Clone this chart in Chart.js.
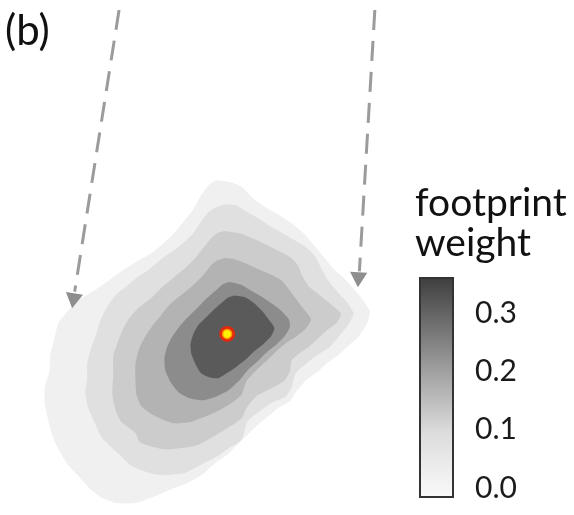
<!DOCTYPE html>
<html>
<head>
<meta charset="utf-8">
<script src="https://cdn.jsdelivr.net/npm/chart.js@4"></script>
<style>
  body { margin: 0; background: #fff; }
  #wrap { position: relative; width: 574px; height: 515px; overflow: hidden; }
  #main { position: absolute; left: 0; top: 0; }
  #bar { position: absolute; left: 415px; top: 180px; }
  #panel { position: absolute; left: 5px; top: 8px; font: 42px Lato, sans-serif; line-height: 42px; color: #111; }
</style>
</head>
<body>
<div id="wrap">
  <canvas id="main" width="574" height="515"></canvas>
  <canvas id="bar" width="159" height="353"></canvas>
  <div id="panel">(b)</div>
</div>
<script>
// footprint contours, outermost first (x, y in picture units)
const contourL1 = [[213,177],[228,179],[240,184],[252,196],[266,206],[280,214],[292,222],[304,232],[316,246],[326,258],[336,270],[347,280],[357,291],[366,302],[373,314],[370,326],[361,340],[350,350],[340,359],[328,368],[318,377],[306,386],[296,398],[290,407],[278,414],[266,424],[254,434],[240,448],[226,462],[212,472],[198,484],[184,492],[168,498],[150,506],[130,513],[110,513],[94,507],[84,499],[72,486],[60,473],[52,460],[45,446],[40,428],[36,410],[36,393],[41,375],[42,358],[46,342],[50,326],[60,313],[74,300],[90,290],[104,280],[118,270],[134,260],[148,252],[160,242],[170,232],[180,220],[190,207],[198,193],[206,182],[213,177]];
const contourL2 = [[222,202],[234,203],[245,210],[256,216],[268,224],[280,231],[292,238],[306,246],[316,256],[322,268],[330,282],[340,294],[350,305],[356,316],[350,328],[342,338],[332,350],[320,358],[308,367],[296,378],[292,392],[286,402],[272,408],[258,418],[246,428],[240,447],[228,455],[217,463],[200,472],[180,482],[160,484],[145,482],[125,474],[117,466],[105,455],[95,445],[88,430],[81,414],[78,398],[80,382],[80,368],[84,352],[89,338],[94,322],[100,310],[110,296],[120,288],[132,278],[144,270],[158,258],[170,250],[180,242],[190,232],[198,220],[206,210],[214,205],[222,202]];
const contourL3 = [[223,230],[240,233],[257,240],[277,250],[290,257],[298,265],[303,277],[310,288],[320,296],[330,304],[343,316],[338,326],[330,332],[320,341],[310,350],[300,357],[292,364],[290,376],[284,386],[270,394],[255,402],[245,414],[240,425],[217,440],[193,453],[160,457],[135,450],[130,440],[115,428],[110,418],[106,400],[107,380],[107,360],[112,345],[117,332],[124,320],[133,310],[146,300],[158,288],[170,278],[182,268],[192,258],[200,248],[208,238],[215,232],[223,230]];
const contourL4 = [[222,258],[232,259],[245,264],[258,270],[272,276],[282,282],[290,292],[298,303],[305,312],[312,322],[305,333],[296,340],[284,348],[275,356],[266,365],[255,375],[245,386],[240,400],[228,410],[214,418],[200,424],[186,429],[170,430],[158,426],[146,420],[136,412],[131,400],[130,385],[130,368],[134,352],[140,340],[148,328],[156,318],[166,306],[178,296],[190,286],[200,276],[208,266],[214,261],[222,258]];
const contourL5 = [[228,283],[240,286],[250,292],[262,299],[272,306],[281,313],[289,322],[290,330],[284,340],[276,348],[266,356],[256,366],[246,375],[238,385],[226,396],[214,402],[200,406],[186,404],[175,398],[167,388],[161,375],[160,362],[163,350],[168,340],[175,330],[184,320],[194,310],[204,300],[214,291],[221,285],[228,283]];
const contourCore = [[232,297],[244,299],[253,305],[262,314],[268,322],[274,331],[270,340],[262,348],[252,356],[244,364],[236,370],[226,377],[216,383],[206,382],[198,378],[192,368],[188,358],[187,348],[190,337],[195,328],[203,320],[212,311],[220,304],[226,299],[232,297]];
const towerPoint = [[225,337]];
const arrowLeft = [[113,0],[67,293]];
const arrowRight = [[378,0],[362,272]];
const arrowHeads = [[66,300],[361,278]];

// colour bar
const weightRange = [-0.017, 0.362];
const weightTicks = [0.0, 0.1, 0.2, 0.3];
const legendTitle = ["footprint", "weight"];

const shades = ["#f0f0f0", "#e0e0e0", "#cccccc", "#b3b3b3", "#8c8c8c", "#5a5a5a"];
const contours = [contourL1, contourL2, contourL3, contourL4, contourL5, contourCore];

const toXY = (arr) => arr.map((p) => ({ x: p[0], y: p[1] }));

const datasets = contours.map((c, i) => ({
    type: "line",
    data: toXY(c),
    backgroundColor: shades[i],
    borderWidth: 0,
    pointRadius: 0,
    tension: 0.2,
    fill: "shape",
    order: 20 - i,
}));

[arrowLeft, arrowRight].forEach((a) => {
    datasets.push({
        type: "line",
        data: toXY(a),
        borderColor: "#9b9b9b",
        borderWidth: 3,
        borderDash: [20, 11],
        pointRadius: 0,
        fill: false,
        order: 2,
    });
});

datasets.push({
    type: "scatter",
    data: toXY(arrowHeads),
    pointStyle: "triangle",
    pointRadius: 10,
    rotation: [189, 183],
    backgroundColor: "#8e8e8e",
    borderWidth: 0,
    order: 1,
});

// tower: red glow with yellow centre
datasets.push({
    type: "scatter",
    data: toXY(towerPoint),
    pointRadius: 8,
    backgroundColor: "rgba(232,40,12,0.95)",
    borderWidth: 0,
    order: 1,
});
datasets.push({
    type: "scatter",
    data: toXY(towerPoint),
    pointRadius: 4.5,
    backgroundColor: "#fff200",
    borderColor: "#ff9a00",
    borderWidth: 1.5,
    order: 0,
});

new Chart(document.getElementById("main"), {
    type: "scatter",
    data: { datasets },
    options: {
        responsive: false,
        animation: false,
        layout: { padding: 0 },
        plugins: { legend: { display: false }, tooltip: { enabled: false } },
        scales: {
            x: { type: "linear", min: 0, max: 574, display: false },
            y: { type: "linear", min: 0, max: 515, reverse: true, display: false },
        },
    },
});

new Chart(document.getElementById("bar"), {
    type: "bar",
    data: {
        labels: [""],
        datasets: [{
            data: [weightRange],
            barPercentage: 35 / 43,
            categoryPercentage: 1,
            borderColor: "#333",
            borderWidth: 2,
            borderSkipped: false,
            backgroundColor: (ctx) => {
                const area = ctx.chart.chartArea;
                if (!area) return "#999";
                const g = ctx.chart.ctx.createLinearGradient(0, area.bottom, 0, area.top);
                g.addColorStop(0, "#fafafa");
                g.addColorStop(0.3, "#dcdcdc");
                g.addColorStop(0.6, "#9a9a9a");
                g.addColorStop(1, "#3e3e3e");
                return g;
            },
        }],
    },
    options: {
        responsive: false,
        animation: false,
        layout: { padding: { left: 0, right: 0, top: 0, bottom: 0 } },
        plugins: {
            legend: { display: false },
            tooltip: { enabled: false },
            title: {
                display: true,
                text: legendTitle,
                align: "start",
                color: "#111",
                font: { family: "Lato", size: 39, weight: "normal", lineHeight: 40 / 39 },
                padding: { top: 3, bottom: 14 },
            },
        },
        scales: {
            x: { display: false },
            y: {
                position: "right",
                min: weightRange[0],
                max: weightRange[1],
                grid: { display: false, drawTicks: false },
                border: { display: false },
                afterBuildTicks: (scale) => {
                    scale.ticks = weightTicks.map((v) => ({ value: v }));
                },
                afterFit: (scale) => { scale.width = 116; },
                ticks: {
                    padding: 17,
                    color: "#1a1a1a",
                    font: { family: "Lato", size: 30 },
                    callback: (v) => Number(v).toFixed(1),
                },
            },
        },
    },
});
</script>
</body>
</html>
